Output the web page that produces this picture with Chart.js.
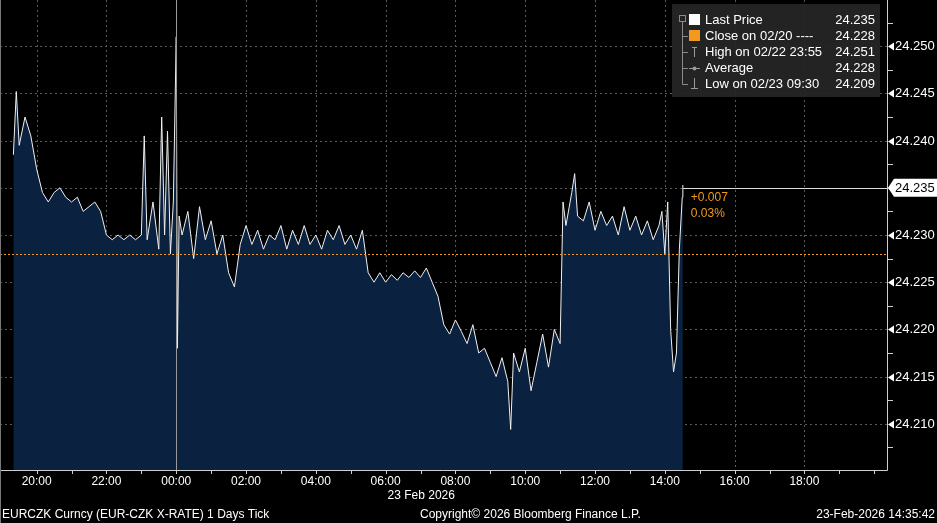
<!DOCTYPE html>
<html><head><meta charset="utf-8">
<script src="https://cdn.jsdelivr.net/npm/chart.js@4"></script>
<style>html,body{margin:0;padding:0;background:#000;}#w{width:937px;height:523px;}</style>
</head><body><div id="w"><canvas id="c"></canvas></div>
<script>
// minutes relative to 23 Feb 00:00
const times = [-280,-275,-270,-260,-250,-240,-230,-220,-210,-200,-190,-180,-170,-160,-150,-140,-130,-120,-110,-100,-90,-80,-70,-60,-55,-50,-40,-30,-25,-20,-15,-10,-5,0,2,5,10,20,30,40,50,60,70,80,90,100,110,120,130,140,150,160,170,180,190,200,210,220,230,240,250,260,270,280,290,300,310,320,330,340,350,360,370,380,390,400,410,420,430,440,450,460,470,480,490,500,510,520,530,540,550,560,570,575,580,590,600,610,620,630,640,650,660,665,670,680,685,690,700,710,720,730,740,750,760,770,780,790,800,810,820,830,835,840,845,850,855,860,865,870,871];
const prices = [24.2385,24.2452,24.2395,24.2425,24.2405,24.2370,24.2345,24.2335,24.2345,24.2350,24.2340,24.2335,24.2340,24.2325,24.2330,24.2335,24.2325,24.2300,24.2295,24.2300,24.2295,24.2300,24.2295,24.2300,24.2405,24.2295,24.2335,24.2285,24.2425,24.2300,24.2410,24.2280,24.2335,24.2510,24.2180,24.2320,24.2300,24.2325,24.2275,24.2330,24.2295,24.2315,24.2280,24.2300,24.2260,24.2245,24.2290,24.2310,24.2290,24.2305,24.2285,24.2300,24.2295,24.2310,24.2285,24.2305,24.2290,24.2310,24.2290,24.2300,24.2285,24.2305,24.2295,24.2310,24.2290,24.2300,24.2285,24.2305,24.2260,24.2250,24.2260,24.2250,24.2258,24.2252,24.2260,24.2255,24.2262,24.2255,24.2265,24.2250,24.2235,24.2205,24.2195,24.2210,24.2198,24.2185,24.2205,24.2175,24.2180,24.2165,24.2150,24.2170,24.2145,24.2094,24.2175,24.2155,24.2180,24.2135,24.2165,24.2195,24.2160,24.2200,24.2185,24.2335,24.2310,24.2345,24.2365,24.2320,24.2315,24.2335,24.2305,24.2325,24.2310,24.2320,24.2300,24.2330,24.2305,24.2320,24.2300,24.2315,24.2295,24.2310,24.2325,24.2280,24.2335,24.2200,24.2155,24.2175,24.2285,24.2340,24.2353];
const xTickTimes = [-240,-180,-120,-60,0,60,120,180,240,300,360,420,480,540,600,660,720,780,840,900,960,1020,1080,1140,1200];
const xLabelTimes = [-240,-120,0,120,240,360,480,600,720,840,960,1080];
const yTicks = [24.2075,24.210,24.2125,24.215,24.2175,24.220,24.2225,24.225,24.2275,24.230,24.2325,24.235,24.2375,24.240,24.2425,24.245,24.2475,24.250,24.2525];
const lastPrice = 24.235, prevClose = 24.228;
const legendRows = [["Last Price","24.235"],["Close on 02/20 ---- ","24.228"],["High on 02/22 23:55","24.251"],["Average","24.228"],["Low on 02/23 09:30","24.209"]];
const F = '"Liberation Sans", Arial, sans-serif';
function fmtT(m){let h=Math.floor((m%1440+1440)%1440/60);return String(h).padStart(2,'0')+':00';}

const overlay = {
  id:'ov',
  beforeDatasetsDraw(ch){
    const c=ch.ctx,x=ch.scales.x,y=ch.scales.y,a=ch.chartArea;
    c.save();c.strokeStyle='#5a5a5a';c.lineWidth=1;c.setLineDash([2,3]);
    xLabelTimes.forEach(t=>{if(t!==0){const px=Math.round(x.getPixelForValue(t))+0.5;c.beginPath();c.moveTo(px,a.top);c.lineTo(px,a.bottom);c.stroke();}});
    yTicks.forEach(v=>{if(Math.round(v*10000)%50===0){const py=Math.round(y.getPixelForValue(v))+0.5;c.beginPath();c.moveTo(a.left,py);c.lineTo(a.right,py);c.stroke();}});
    c.restore();
  },
  afterDatasetsDraw(ch){
    const c=ch.ctx,x=ch.scales.x,y=ch.scales.y,a=ch.chartArea;
    c.save();
    let px=Math.round(x.getPixelForValue(0))+0.5;
    c.strokeStyle='#9a9a9a';c.lineWidth=1;c.beginPath();c.moveTo(px,a.top);c.lineTo(px,a.bottom);c.stroke();
    let py=Math.round(y.getPixelForValue(prevClose))+0.5;
    c.strokeStyle='#f39a1e';c.setLineDash([2,2]);c.beginPath();c.moveTo(a.left,py);c.lineTo(a.right,py);c.stroke();c.setLineDash([]);
    py=Math.round(y.getPixelForValue(lastPrice))+0.5;
    const ex=x.getPixelForValue(times[times.length-1]);
    c.strokeStyle='#dcdcdc';c.beginPath();c.moveTo(ex,py);c.lineTo(a.right,py);c.stroke();
    c.fillStyle='#f39a1e';c.font='12px '+F;c.textBaseline='middle';
    c.fillText('+0.007',ex+8,py+9);c.fillText('0.03%',ex+8,py+25);
    c.strokeStyle='#cfcfcf';c.beginPath();c.moveTo(a.right+0.5,a.top);c.lineTo(a.right+0.5,a.bottom+0.5);c.lineTo(a.left,a.bottom+0.5);c.stroke();
    c.strokeStyle='#777';c.beginPath();c.moveTo(0.5,a.top);c.lineTo(0.5,523);c.stroke();
    c.font='13px '+F;c.textBaseline='middle';
    yTicks.forEach(v=>{const p=Math.round(y.getPixelForValue(v))+0.5;
      c.strokeStyle='#cfcfcf';c.beginPath();
      if(Math.round(v*10000)%50===0){c.fillStyle='#fff';c.beginPath();c.moveTo(a.right+1,p);c.lineTo(a.right+7,p-4);c.lineTo(a.right+7,p+4);c.fill();c.fillText(v.toFixed(3),a.right+8,p);}
      else{c.moveTo(a.right,p);c.lineTo(a.right+6,p);c.stroke();}
    });
    const lp=y.getPixelForValue(lastPrice);
    c.fillStyle='#fff';c.beginPath();c.moveTo(a.right+1,lp);c.lineTo(a.right+7,lp-9);c.lineTo(937,lp-9);c.lineTo(937,lp+9);c.lineTo(a.right+7,lp+9);c.closePath();c.fill();
    c.fillStyle='#000';c.fillText(lastPrice.toFixed(3),a.right+8,lp+1);
    c.fillStyle='#fff';c.textAlign='center';c.font='12px '+F;
    xTickTimes.forEach(t=>{const p=Math.round(x.getPixelForValue(t))+0.5;if(p>a.right)return;
      c.strokeStyle='#cfcfcf';c.beginPath();c.moveTo(p,a.bottom);c.lineTo(p,a.bottom+4);c.stroke();});
    xLabelTimes.forEach(t=>{c.fillText(fmtT(t),x.getPixelForValue(t),a.bottom+12);});
    c.fillText('23 Feb 2026',x.getPixelForValue(0)+245,a.bottom+26);
    c.textAlign='left';c.fillText('EURCZK Curncy (EUR-CZK X-RATE) 1 Days Tick',2,515);
    c.fillText('Copyright\u00a9 2026 Bloomberg Finance L.P.',420,515);
    c.textAlign='right';c.fillText('23-Feb-2026 14:35:42',935,515);
    c.textAlign='left';c.fillStyle='rgba(38,38,38,0.92)';c.fillRect(672,4,208,93);
    c.strokeStyle='#8a8a8a';c.strokeRect(679.5,15.5,6,6);
    c.beginPath();c.moveTo(682.5,22);c.lineTo(682.5,84.5);c.lineTo(688,84.5);
    [36,52,68].forEach(yy=>{c.moveTo(682.5,yy+0.5);c.lineTo(688,yy+0.5);});c.stroke();
    c.fillStyle='#fff';c.fillRect(689,14,11,11);c.fillStyle='#f39a1e';c.fillRect(689,30,11,11);
    c.strokeStyle='#999';c.beginPath();c.moveTo(694.5,47);c.lineTo(694.5,57);c.moveTo(692,47.5);c.lineTo(697,47.5);
    c.moveTo(689,68.5);c.lineTo(700,68.5);c.moveTo(694.5,78);c.lineTo(694.5,88);c.moveTo(691,88.5);c.lineTo(698,88.5);c.stroke();
    c.fillStyle='#999';c.beginPath();c.arc(694.5,68.5,2,0,7);c.fill();
    c.font='13px '+F;c.fillStyle='#fff';
    legendRows.forEach((r,i)=>{const yy=20+i*16;c.textAlign='left';c.fillText(r[0],705,yy);c.textAlign='right';c.fillText(r[1],875,yy);});
    c.restore();
  }
};

new Chart(document.getElementById('c'),{
  type:'line',
  data:{datasets:[{data:times.map((t,i)=>({x:t,y:prices[i]})),borderColor:'#f0f0f0',borderWidth:1,pointRadius:0,fill:'start',backgroundColor:'#0a2240',tension:0}]},
  options:{responsive:true,maintainAspectRatio:false,animation:false,devicePixelRatio:1,
    layout:{padding:0},
    plugins:{legend:{display:false},tooltip:{enabled:false}},
    scales:{
      x:{type:'linear',min:-303,max:1222,grid:{display:false},border:{display:false},ticks:{display:false},afterFit(s){s.height=53;}},
      y:{position:'right',min:24.2051,max:24.2549,grid:{display:false},border:{display:false},ticks:{display:false},afterFit(s){s.width=50;}}
    }
  },
  plugins:[overlay]
});
</script></body></html>
